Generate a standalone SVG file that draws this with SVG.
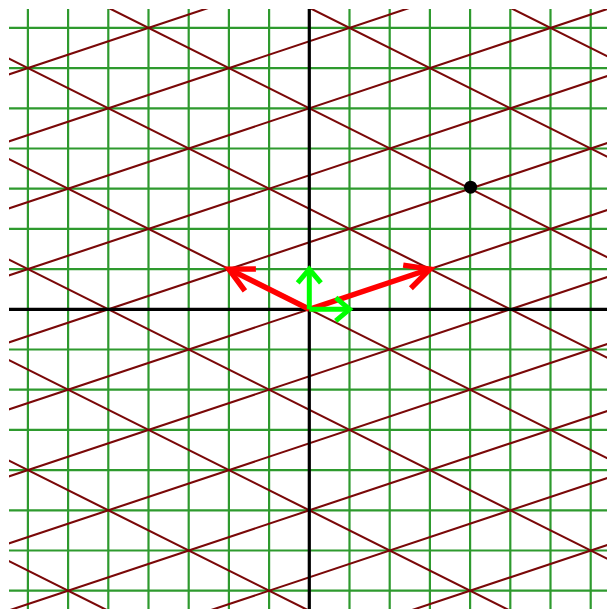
<svg xmlns="http://www.w3.org/2000/svg" width="607" height="609" viewBox="0 0 607 609">
<defs>
<clipPath id="area"><rect x="9" y="9" width="598" height="600"/></clipPath>
<style>
.grid line{stroke:#2e9a2e;stroke-width:2.2}
.lat line{stroke:#7a0808;stroke-width:2.1}
.axis line{stroke:#000;stroke-width:3.2}
.red{stroke:#ff0000;stroke-width:5.5;fill:none;stroke-linejoin:miter}
.grn{stroke:#00ff00;stroke-width:5;fill:none;stroke-linejoin:miter}
</style>
</defs>
<rect width="607" height="609" fill="#fff"/>
<g clip-path="url(#area)">
<g id="grid" class="grid">
<line x1="27.9" y1="0" x2="27.9" y2="609"/>
<line x1="68.1" y1="0" x2="68.1" y2="609"/>
<line x1="108.3" y1="0" x2="108.3" y2="609"/>
<line x1="148.5" y1="0" x2="148.5" y2="609"/>
<line x1="188.7" y1="0" x2="188.7" y2="609"/>
<line x1="228.9" y1="0" x2="228.9" y2="609"/>
<line x1="269.1" y1="0" x2="269.1" y2="609"/>
<line x1="349.5" y1="0" x2="349.5" y2="609"/>
<line x1="389.7" y1="0" x2="389.7" y2="609"/>
<line x1="429.9" y1="0" x2="429.9" y2="609"/>
<line x1="470.1" y1="0" x2="470.1" y2="609"/>
<line x1="510.3" y1="0" x2="510.3" y2="609"/>
<line x1="550.5" y1="0" x2="550.5" y2="609"/>
<line x1="590.7" y1="0" x2="590.7" y2="609"/>
<line y1="27.9" x1="0" y2="27.9" x2="607"/>
<line y1="68.1" x1="0" y2="68.1" x2="607"/>
<line y1="108.3" x1="0" y2="108.3" x2="607"/>
<line y1="148.5" x1="0" y2="148.5" x2="607"/>
<line y1="188.7" x1="0" y2="188.7" x2="607"/>
<line y1="228.9" x1="0" y2="228.9" x2="607"/>
<line y1="269.1" x1="0" y2="269.1" x2="607"/>
<line y1="349.5" x1="0" y2="349.5" x2="607"/>
<line y1="389.7" x1="0" y2="389.7" x2="607"/>
<line y1="429.9" x1="0" y2="429.9" x2="607"/>
<line y1="470.1" x1="0" y2="470.1" x2="607"/>
<line y1="510.3" x1="0" y2="510.3" x2="607"/>
<line y1="550.5" x1="0" y2="550.5" x2="607"/>
<line y1="590.7" x1="0" y2="590.7" x2="607"/>
</g>
<g id="lattice" class="lat">
<line x1="-12.3" y1="818.5" x2="630.9" y2="604.1"/>
<line x1="-12.3" y1="751.5" x2="630.9" y2="537.1"/>
<line x1="-12.3" y1="684.5" x2="630.9" y2="470.1"/>
<line x1="-12.3" y1="617.5" x2="630.9" y2="403.1"/>
<line x1="-12.3" y1="550.5" x2="630.9" y2="336.1"/>
<line x1="-12.3" y1="483.5" x2="630.9" y2="269.1"/>
<line x1="-12.3" y1="416.5" x2="630.9" y2="202.1"/>
<line x1="-12.3" y1="349.5" x2="630.9" y2="135.1"/>
<line x1="-12.3" y1="282.5" x2="630.9" y2="68.1"/>
<line x1="-12.3" y1="215.5" x2="630.9" y2="1.1"/>
<line x1="-12.3" y1="148.5" x2="630.9" y2="-65.9"/>
<line x1="-12.3" y1="81.5" x2="630.9" y2="-132.9"/>
<line x1="-12.3" y1="14.5" x2="630.9" y2="-199.9"/>
<line x1="-12.3" y1="550.5" x2="630.9" y2="872.1"/>
<line x1="-12.3" y1="450.0" x2="630.9" y2="771.6"/>
<line x1="-12.3" y1="349.5" x2="630.9" y2="671.1"/>
<line x1="-12.3" y1="249.0" x2="630.9" y2="570.6"/>
<line x1="-12.3" y1="148.5" x2="630.9" y2="470.1"/>
<line x1="-12.3" y1="48.0" x2="630.9" y2="369.6"/>
<line x1="-12.3" y1="-52.5" x2="630.9" y2="269.1"/>
<line x1="-12.3" y1="-153.0" x2="630.9" y2="168.6"/>
<line x1="-12.3" y1="-253.5" x2="630.9" y2="68.1"/>
</g>
<g id="axes" class="axis">
<line x1="309.3" y1="0" x2="309.3" y2="609"/>
<line x1="0" y1="309.3" x2="607" y2="309.3"/>
</g>
</g>
<g id="connectors">
<g id="vec-a">
<line class="red" x1="309.3" y1="309.3" x2="427" y2="270"/>
<polyline class="red" points="403.2,265.1 429.9,269.1 410.9,288.3"/>
</g>
<g id="vec-b">
<line class="red" x1="309.3" y1="309.3" x2="231.5" y2="270.4"/>
<polyline class="red" points="244.9,290.8 228.9,269.1 255.9,268.9"/>
</g>
<g id="vec-x">
<line class="grn" x1="309.3" y1="309.3" x2="347" y2="309.3"/>
<polyline class="grn" points="335.7,297.7 349.5,309.3 335.7,320.9"/>
</g>
<g id="vec-y">
<line class="grn" x1="309.3" y1="309.3" x2="309.3" y2="271.5"/>
<polyline class="grn" points="297.7,282.9 309.3,269.1 320.9,282.9"/>
</g>
</g>
<g id="point">
<circle cx="470.6" cy="187.2" r="6.5" fill="#000"/>
</g>
</svg>
